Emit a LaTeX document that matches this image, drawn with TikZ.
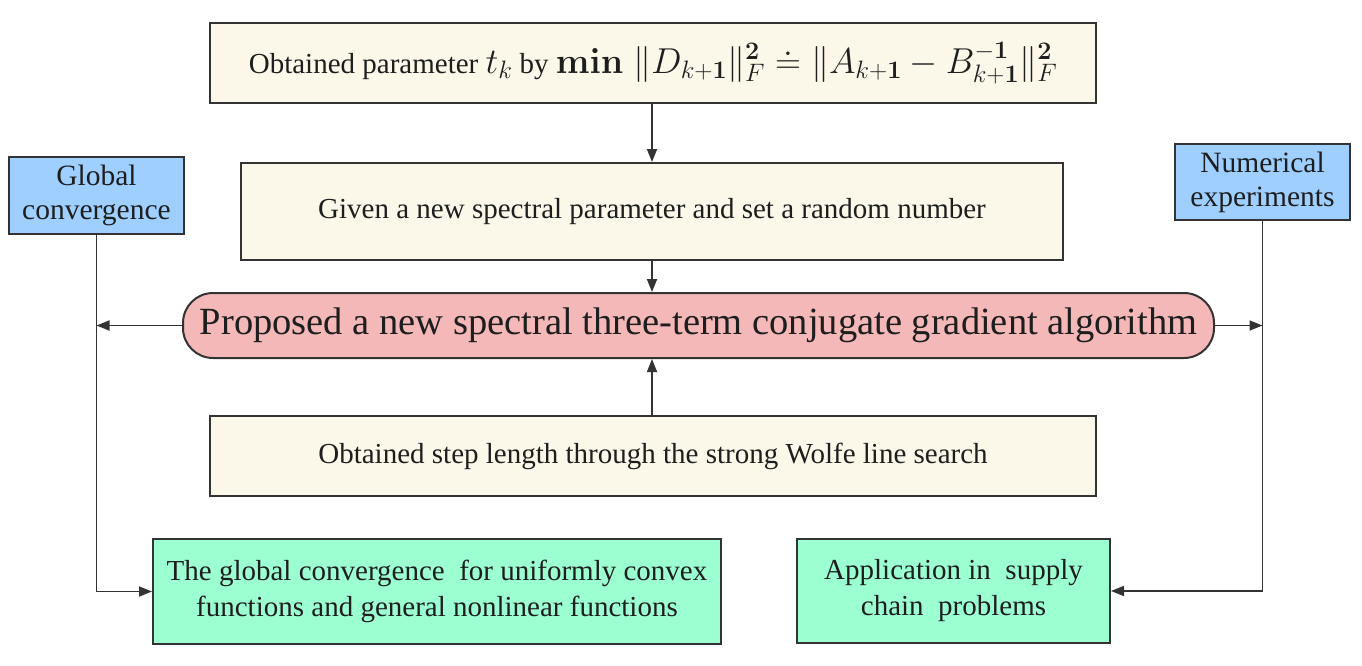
\RequirePackage{fix-cm}
\documentclass[tikz,border=0pt]{standalone}
\usepackage{amsmath}
\usepackage[no-math]{fontspec}
\setmainfont{Liberation Serif}
\usetikzlibrary{arrows.meta}
\definecolor{cream}{HTML}{FCF8E9}
\definecolor{pinkf}{HTML}{F4B8B8}
\definecolor{bluef}{HTML}{9ECFFF}
\definecolor{greenf}{HTML}{9CFFD1}
\definecolor{edge}{HTML}{333333}
\definecolor{txt}{HTML}{1E1E1E}
\newcommand{\bone}{\mathbf{1}}
\newcommand{\mathsz}{\fontsize{36}{40}\selectfont}
\tikzset{
  base/.style={draw=edge, line width=2pt, text=txt, align=center, inner sep=0pt},
  cbox/.style={base, fill=cream, font=\fontsize{29}{34}\selectfont},
  bbox/.style={base, fill=bluef, font=\fontsize{29.5}{34}\selectfont},
  gbox/.style={base, fill=greenf, font=\fontsize{29}{36}\selectfont},
  pill/.style={base, fill=pinkf, rounded corners=30pt, font=\fontsize{38.5}{44}\selectfont},
  arr/.style={draw=edge, line width=1.8pt, -{Triangle[length=13pt,width=10pt]}}
}
\begin{document}
\begin{tikzpicture}[x=1pt,y=-1pt]
\useasboundingbox (0,0) rectangle (1362,666);
\node[cbox, minimum width=886pt, minimum height=80pt] (top) at (653,63)
  {Obtained parameter {\mathsz$t_k$} by {\mathsz$\mathbf{min}\;\|D_{k+\bone}\|_F^{\mathbf{2}}\doteq\|A_{k+\bone}-B_{k+\bone}^{-\bone}\|_F^{\mathbf{2}}$}};
\node[cbox, minimum width=822pt, minimum height=97pt] (given) at (652,211.5)
  {Given a new spectral parameter and set a random number};
\node[pill, minimum width=1031pt, minimum height=65pt] (prop) at (698.5,325.5)
  {\raisebox{-4pt}{Proposed a new spectral three-term conjugate gradient algorithm}};
\node[cbox, minimum width=886pt, minimum height=80pt] (step) at (653,456)
  {Obtained step length through the strong Wolfe line search};
\node[bbox, minimum width=175pt, minimum height=77pt] (gc) at (96.5,195.5)
  {Global\\convergence};
\node[bbox, minimum width=175pt, minimum height=76pt] (ne) at (1262.5,182)
  {Numerical\\experiments};
\node[gbox, minimum width=568pt, minimum height=105pt] (gl) at (437,591.5)
  {The global convergence\ \ for uniformly convex\\functions and general nonlinear functions};
\node[gbox, minimum width=313pt, minimum height=104pt] (ap) at (953.5,591)
  {Application in\ \ supply\\chain\ \ problems};
\coordinate (lv) at (96.5,325.5);
\coordinate (rv) at (1262.5,325.5);
\draw[arr] (given.north |- top.south) -- (given.north);
\draw[arr] (given.south) -- (given.south |- prop.north);
\draw[arr] (given.south |- step.north) -- (given.south |- prop.south);
\draw[arr] (prop.west) -- (lv);
\draw[arr] (prop.east) -- (rv);
\draw[arr] (gc.south) |- (gl.west);
\draw[arr] (ne.south) |- (ap.east);
\end{tikzpicture}
\end{document}
